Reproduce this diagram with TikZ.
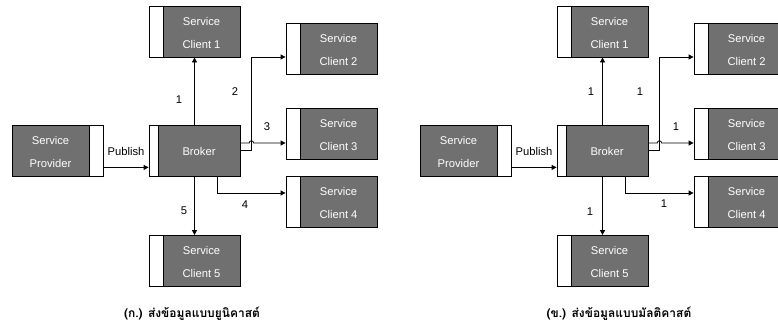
\documentclass[tikz,border=0pt]{standalone}
\usepackage{fontspec}
\setmainfont{Liberation Sans}
\newfontfamily\thaifont[Script=Thai]{Loma}
\usetikzlibrary{calc,arrows.meta}
\definecolor{boxgray}{RGB}{112,112,112}
\begin{document}
\begin{tikzpicture}[x=1pt,y=-1pt,
  every node/.style={font=\fontsize{11.2}{23}\selectfont},
  % service box: white strip on the left of width #1, grey body to its right
  svcbox/.style={draw, fill=boxgray, line width=0.8pt, minimum width=91pt,
    minimum height=51pt, inner sep=0pt,
    path picture={\fill[white] (path picture bounding box.south west)
      rectangle ([xshift=#1]path picture bounding box.north west);
      \draw[line width=0.8pt] ([xshift=#1]path picture bounding box.south west)
      -- ([xshift=#1]path picture bounding box.north west);}},
  % provider box: white strip on the right
  provbox/.style={draw, fill=boxgray, line width=0.8pt, minimum width=91pt,
    minimum height=51pt, inner sep=0pt,
    path picture={\fill[white] (path picture bounding box.south east)
      rectangle ([xshift=-14pt]path picture bounding box.north east);
      \draw[line width=0.8pt] ([xshift=-14pt]path picture bounding box.south east)
      -- ([xshift=-14pt]path picture bounding box.north east);}},
  boxtext/.style={text=white, align=center, inner sep=0pt},
  lbl/.style={inner sep=0pt},
  conn/.style={line width=0.8pt, -{Triangle[length=5pt,width=5pt]}},
  captxt/.style={font=\thaifont\bfseries\fontsize{12}{14}\selectfont, inner sep=0pt},
]
\useasboundingbox (0,0) rectangle (778,332);
\clip (0,0) rectangle (778,332);

% ---------- unicast ----------
\node[provbox] (pA) at (57.5,150.5) {};
\node[boxtext] (pAt) at ($(pA.center)+(-7,1)$) {Service\\Provider};
\node[svcbox=9pt] (bA) at (194.5,150.5) {};
\node[boxtext] (bAt) at ($(bA.center)+(4.5,1)$) {Broker};
\foreach \n/\x/\y in {1/194.5/31.5, 2/331.5/48.5, 3/331.5/133.5, 4/331.5/201.5, 5/194.5/261}{
  \node[svcbox=14pt] (cA\n) at (\x,\y) {};
  \node[boxtext] (cA\n t) at ($(cA\n.center)+(7,1)$) {Service\\Client \n};
}
\coordinate (pubA) at ($(pA.south east)+(0,-9)$);
\draw[conn] (pubA) -- (bA.west |- pubA);
\draw[conn] (bA.north) -- (cA1.south);
\coordinate (j3A) at ($(bA.east)+(0,-7.5)$);
\coordinate (turnA) at ($(bA.east)+(11,0)$);
\coordinate (hopA) at (turnA |- j3A);
\coordinate (j2A) at ($(cA2.west)+(0,8.5)$);
\draw[conn] (bA.east) -- (turnA) -- (turnA |- j2A) -- (j2A);
\draw[conn] (j3A) -- ($(hopA)+(-2.2,0)$) arc[start angle=180, end angle=360, radius=2.2]
  -- (cA3.west |- j3A);
\coordinate (s4A) at ($(bA.south)+(22.5,0)$);
\coordinate (j4A) at ($(cA4.west)+(0,-8.5)$);
\draw[conn] (s4A) -- (s4A |- j4A) -- (j4A);
\draw[conn] (bA.south) -- (cA5.north);
\node[lbl] (pubAl) at (126,151) {Publish};
\node[lbl] (lA1) at (179,100) {1};
\node[lbl] (lA2) at (235,92) {2};
\node[lbl] (lA3) at (267,127) {3};
\node[lbl] (lA4) at (245,205) {4};
\node[lbl] (lA5) at (184,211) {5};
\node[captxt] (capA) at (192,314) {(ก.) ส่งข้อมูลแบบยูนิคาสต์};

% ---------- multicast ----------
\node[provbox] (pB) at (465.5,150.5) {};
\node[boxtext] (pBt) at ($(pB.center)+(-7,1)$) {Service\\Provider};
\node[svcbox=9pt] (bB) at (602.5,150.5) {};
\node[boxtext] (bBt) at ($(bB.center)+(4.5,1)$) {Broker};
\foreach \n/\x/\y in {1/602.5/31.5, 2/739.5/48.5, 3/739.5/133.5, 4/739.5/201.5, 5/602.5/261}{
  \node[svcbox=14pt] (cB\n) at (\x,\y) {};
  \node[boxtext] (cB\n t) at ($(cB\n.center)+(7,1)$) {Service\\Client \n};
}
\coordinate (pubB) at ($(pB.south east)+(0,-9)$);
\draw[conn] (pubB) -- (bB.west |- pubB);
\draw[conn] (bB.north) -- (cB1.south);
\coordinate (j3B) at ($(bB.east)+(0,-7.5)$);
\coordinate (turnB) at ($(bB.east)+(11,0)$);
\coordinate (hopB) at (turnB |- j3B);
\coordinate (j2B) at ($(cB2.west)+(0,8.5)$);
\draw[conn] (bB.east) -- (turnB) -- (turnB |- j2B) -- (j2B);
\draw[conn] (j3B) -- ($(hopB)+(-2.2,0)$) arc[start angle=180, end angle=360, radius=2.2]
  -- (cB3.west |- j3B);
\coordinate (s4B) at ($(bB.south)+(22.5,0)$);
\coordinate (j4B) at ($(cB4.west)+(0,-8.5)$);
\draw[conn] (s4B) -- (s4B |- j4B) -- (j4B);
\draw[conn] (bB.south) -- (cB5.north);
\node[lbl] (pubBl) at (534,151) {Publish};
\node[lbl] (lB1) at (591,92) {1};
\node[lbl] (lB2) at (640,92) {1};
\node[lbl] (lB3) at (676,127) {1};
\node[lbl] (lB4) at (664,204) {1};
\node[lbl] (lB5) at (590,212) {1};
\node[captxt] (capB) at (619,314) {(ข.) ส่งข้อมูลแบบมัลติคาสต์};
\end{tikzpicture}
\end{document}
